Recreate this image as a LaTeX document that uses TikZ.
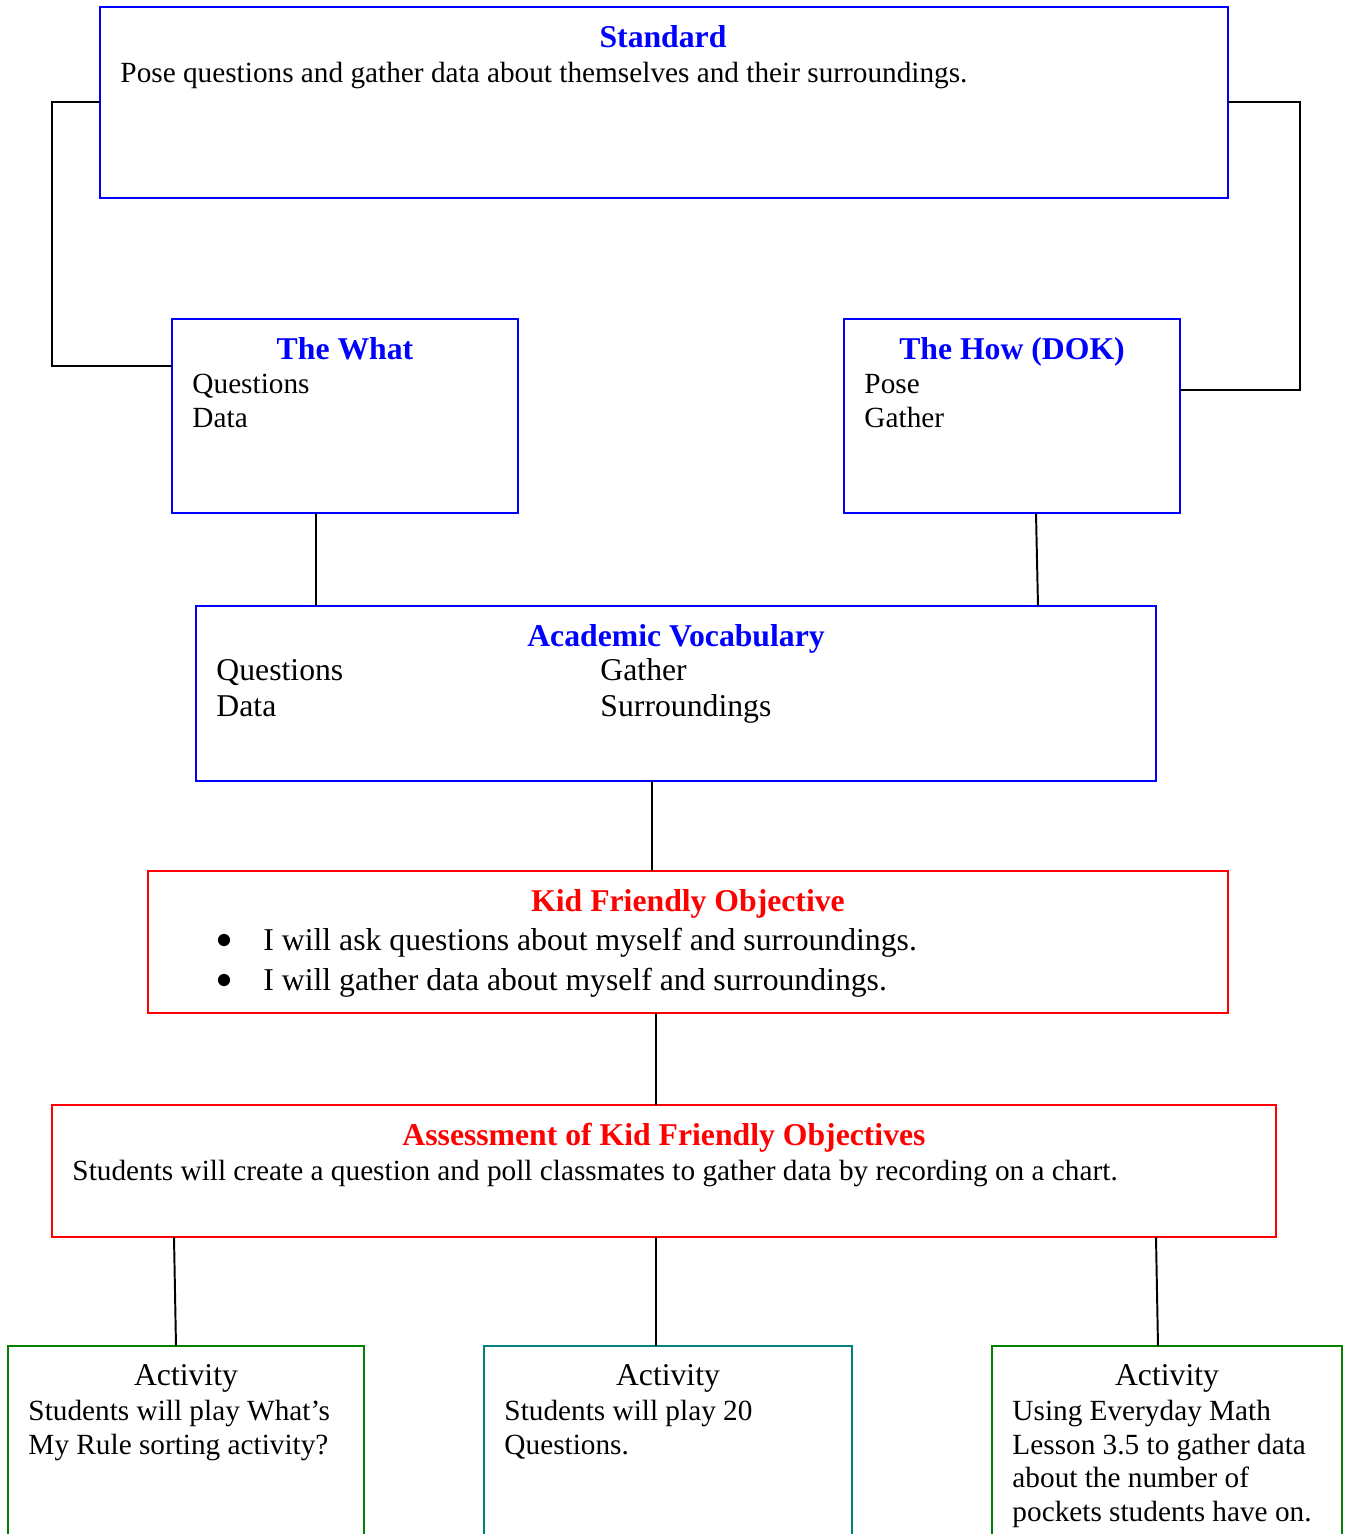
\documentclass[tikz,border=0pt]{standalone}
\usepackage{fontspec}
\setmainfont{Liberation Serif}
\usepackage{xcolor}
\usetikzlibrary{positioning,fit}
\definecolor{stdblue}{RGB}{0,0,255}
\definecolor{objred}{RGB}{255,0,0}
\definecolor{actgreen}{RGB}{0,128,0}
\definecolor{actteal}{RGB}{0,128,128}
\tikzset{
  box/.style={draw, rectangle, line width=0.8pt, inner sep=0pt, outer sep=0pt},
  bluebox/.style={box, draw=stdblue},
  redbox/.style={box, draw=objred},
  greenbox/.style={box, draw=actgreen},
  tealbox/.style={box, draw=actteal},
  title/.style={anchor=base, inner sep=0pt, font=\fontsize{13}{15}\selectfont\bfseries},
  bluetitle/.style={title, text=stdblue},
  redtitle/.style={title, text=objred},
  acttitle/.style={anchor=base, inner sep=0pt, font=\fontsize{13}{15}\selectfont},
  body/.style={anchor=base west, inner sep=0pt, font=\fontsize{12}{14}\selectfont},
  bigbody/.style={anchor=base west, inner sep=0pt, font=\fontsize{13}{15}\selectfont},
  bulletdot/.style={circle, fill=black, inner sep=0pt, minimum size=5pt},
  link/.style={line width=0.8pt}
}

\begin{document}
\begin{tikzpicture}[x=0.41pt, y=-0.41pt]
  \useasboundingbox (0,0) rectangle (1346,1534);

  % boxes
  \node[bluebox, fit={(100,7) (1228,198)}] (standard) {};
  \node[bluebox, fit={(172,319) (518,513)}] (what) {};
  \node[bluebox, fit={(844,319) (1180,513)}] (how) {};
  \node[bluebox, fit={(196,606) (1156,781)}] (vocab) {};
  \node[redbox, fit={(148,871) (1228,1013)}] (kid) {};
  \node[redbox, fit={(52,1105) (1276,1237)}] (assess) {};
  \node[greenbox, fit={(8,1346) (364,1560)}] (act1) {};
  \node[tealbox, fit={(484,1346) (852,1560)}] (act2) {};
  \node[greenbox, fit={(992,1346) (1342,1560)}] (act3) {};

  % Standard
  \node[bluetitle] (std-title) at (663,47) {Standard};
  \node[body] (std-text) at (120,82) {Pose questions and gather data about themselves and their surroundings.};

  % The What / The How
  \node[bluetitle] (what-title) at (345,359) {The What};
  \node[body] (what-l1) at (192,393) {Questions};
  \node[body] (what-l2) at (192,427) {Data};
  \node[bluetitle] (how-title) at (1012,359) {The How (DOK)};
  \node[body] (how-l1) at (864,393) {Pose};
  \node[body] (how-l2) at (864,427) {Gather};

  % Academic Vocabulary
  \node[bluetitle] (vocab-title) at (676,646) {Academic Vocabulary};
  \node[bigbody] (vocab-l1) at (216,680) {Questions};
  \node[bigbody] (vocab-l2) at (216,716) {Data};
  \node[bigbody] (vocab-r1) at (600,680) {Gather};
  \node[bigbody] (vocab-r2) at (600,716) {Surroundings};

  % Kid Friendly Objective
  \node[redtitle] (kid-title) at (688,911) {Kid Friendly Objective};
  \node[bulletdot] (kid-b1) at (224,940) {};
  \node[bigbody] (kid-l1) at (263,950) {I will ask questions about myself and surroundings.};
  \node[bulletdot] (kid-b2) at (224,980) {};
  \node[bigbody] (kid-l2) at (263,990) {I will gather data about myself and surroundings.};

  % Assessment
  \node[redtitle] (assess-title) at (664,1145) {Assessment of Kid Friendly Objectives};
  \node[body] (assess-text) at (72,1180) {Students will create a question and poll classmates to gather data by recording on a chart.};

  % Activities
  \node[acttitle] (act1-title) at (186,1385) {Activity};
  \node[body] (act1-l1) at (28,1420) {Students will play What’s};
  \node[body] (act1-l2) at (28,1454) {My Rule sorting activity?};
  \node[acttitle] (act2-title) at (668,1385) {Activity};
  \node[body] (act2-l1) at (504,1420) {Students will play 20};
  \node[body] (act2-l2) at (504,1454) {Questions.};
  \node[acttitle] (act3-title) at (1167,1385) {Activity};
  \node[body] (act3-l1) at (1012,1420) {Using Everyday Math};
  \node[body] (act3-l2) at (1012,1454) {Lesson 3.5 to gather data};
  \node[body] (act3-l3) at (1012,1487) {about the number of};
  \node[body] (act3-l4) at (1012,1521) {pockets students have on.};

  % connectors
  \draw[link] (standard.west |- 0,102) -- (52,102) |- (what.west |- 0,366);
  \draw[link] (standard.east |- 0,102) -- (1300,102) |- (how.east |- 0,390);
  \draw[link] (what.south -| 316,0) -- (vocab.north -| 316,0);
  \draw[link] (how.south -| 1036,0) -- (vocab.north -| 1038,0);
  \draw[link] (vocab.south -| 652,0) -- (kid.north -| 652,0);
  \draw[link] (kid.south -| 656,0) -- (assess.north -| 656,0);
  \draw[link] (assess.south -| 174,0) -- (act1.north -| 176,0);
  \draw[link] (assess.south -| 656,0) -- (act2.north -| 656,0);
  \draw[link] (assess.south -| 1156,0) -- (act3.north -| 1158,0);
\end{tikzpicture}
\end{document}
